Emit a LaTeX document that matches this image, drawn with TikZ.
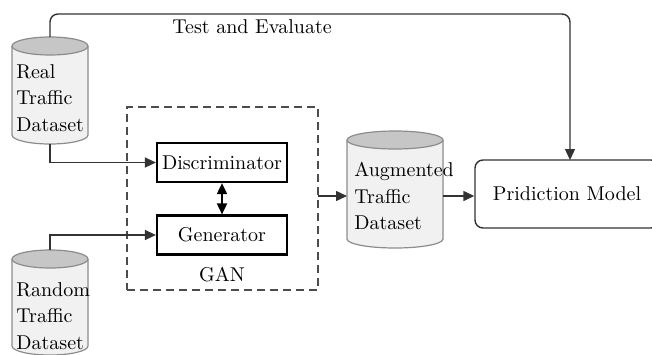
\documentclass[tikz,border=0pt]{standalone}
\usetikzlibrary{arrows.meta}
\definecolor{cylbodyc}{HTML}{F1F1F1}
\definecolor{cyltopc}{HTML}{C6C6C6}
\definecolor{cyllinec}{HTML}{8C8C8C}
\definecolor{linec}{HTML}{333333}
\tikzset{
  conn/.style={draw=linec, line width=0.7pt, -{Triangle[length=5.5pt,width=5pt]}},
  plain/.style={draw=linec, line width=0.7pt},
  blockbox/.style={draw=black, line width=1.1pt, minimum width=65pt, minimum height=19.5pt, inner sep=0pt, font=\fontsize{10}{12}\selectfont},
  predbox/.style={draw=linec, line width=0.7pt, rounded corners=4pt, minimum width=92pt, minimum height=34pt, inner sep=0pt},
  cyltext/.style={align=left, anchor=west, inner sep=0pt, font=\fontsize{10}{13.2}\selectfont},
  ganbox/.style={draw=black!70, line width=0.6pt, dash pattern=on 4pt off 2.5pt},
  cylbody/.style={fill=cylbodyc},
  cylline/.style={draw=cyllinec, line width=0.6pt},
}
\newcommand\mycyl[5]{%
  \fill[cylbody] (#1-#2,#3) -- (#1-#2,#4) arc[start angle=180,end angle=0,x radius=#2,y radius=#5] -- (#1+#2,#3) -- cycle;
  \draw[cylline] (#1-#2,#3) -- (#1-#2,#4) arc[start angle=180,end angle=0,x radius=#2,y radius=#5] -- (#1+#2,#3);
  \filldraw[cylline, fill=cyltopc] (#1,#3) ellipse[x radius=#2, y radius=#5];
}
\begin{document}
\begin{tikzpicture}[x=0.5pt,y=-0.5pt]
\useasboundingbox (0,0) rectangle (652,354);
\clip (0,0) rectangle (652,354);

% cylinders
\mycyl{50}{38}{46}{135}{9}
\mycyl{50}{38}{259}{346}{9}
\mycyl{395}{48}{140}{239}{9}

\coordinate (realtop) at (50,37);
\coordinate (realbot) at (50,144);
\coordinate (randtop) at (50,250);
\coordinate (augwest) at (347,196);
\coordinate (augeast) at (443,196);

\node[cyltext] (realtxt) at (16,98) {Real\\Traffic\\Dataset};
\node[cyltext] (randtxt) at (16,316) {Random\\Traffic\\Dataset};
\node[cyltext] (augtxt) at (354,196) {Augmented\\Traffic\\Dataset};

% GAN dashed box
\node[ganbox, minimum width=95.5pt, minimum height=91.5pt, inner sep=0pt] (gan) at (222.5,198.5) {};
\node (gantxt) at (222,275) {GAN};
\coordinate (ganout) at (318,196);

\node[blockbox] (disc) at (222,162.5) {Discriminator};
\node[blockbox] (gen) at (222,235) {Generator};

\node[predbox] (pred) at (567,194) {Pridiction Model};

% top feedback line
\draw[conn, rounded corners=4pt] (realtop) -- (50,14) -- (570,14) -- (570,160);
\node (testtxt) at (252,27) {Test and Evaluate};

% connectors
\draw[conn] (realbot) |- (disc.west);
\draw[conn] (randtop) |- (gen.west);
\draw[draw=black, line width=0.9pt, {Triangle[length=5.5pt,width=5pt]}-{Triangle[length=5.5pt,width=5pt]}] (disc.south) -- (gen.north);
\draw[conn] (ganout) -- (augwest);
\draw[conn] (augeast) -- (pred.west |- augeast);
\end{tikzpicture}
\end{document}
